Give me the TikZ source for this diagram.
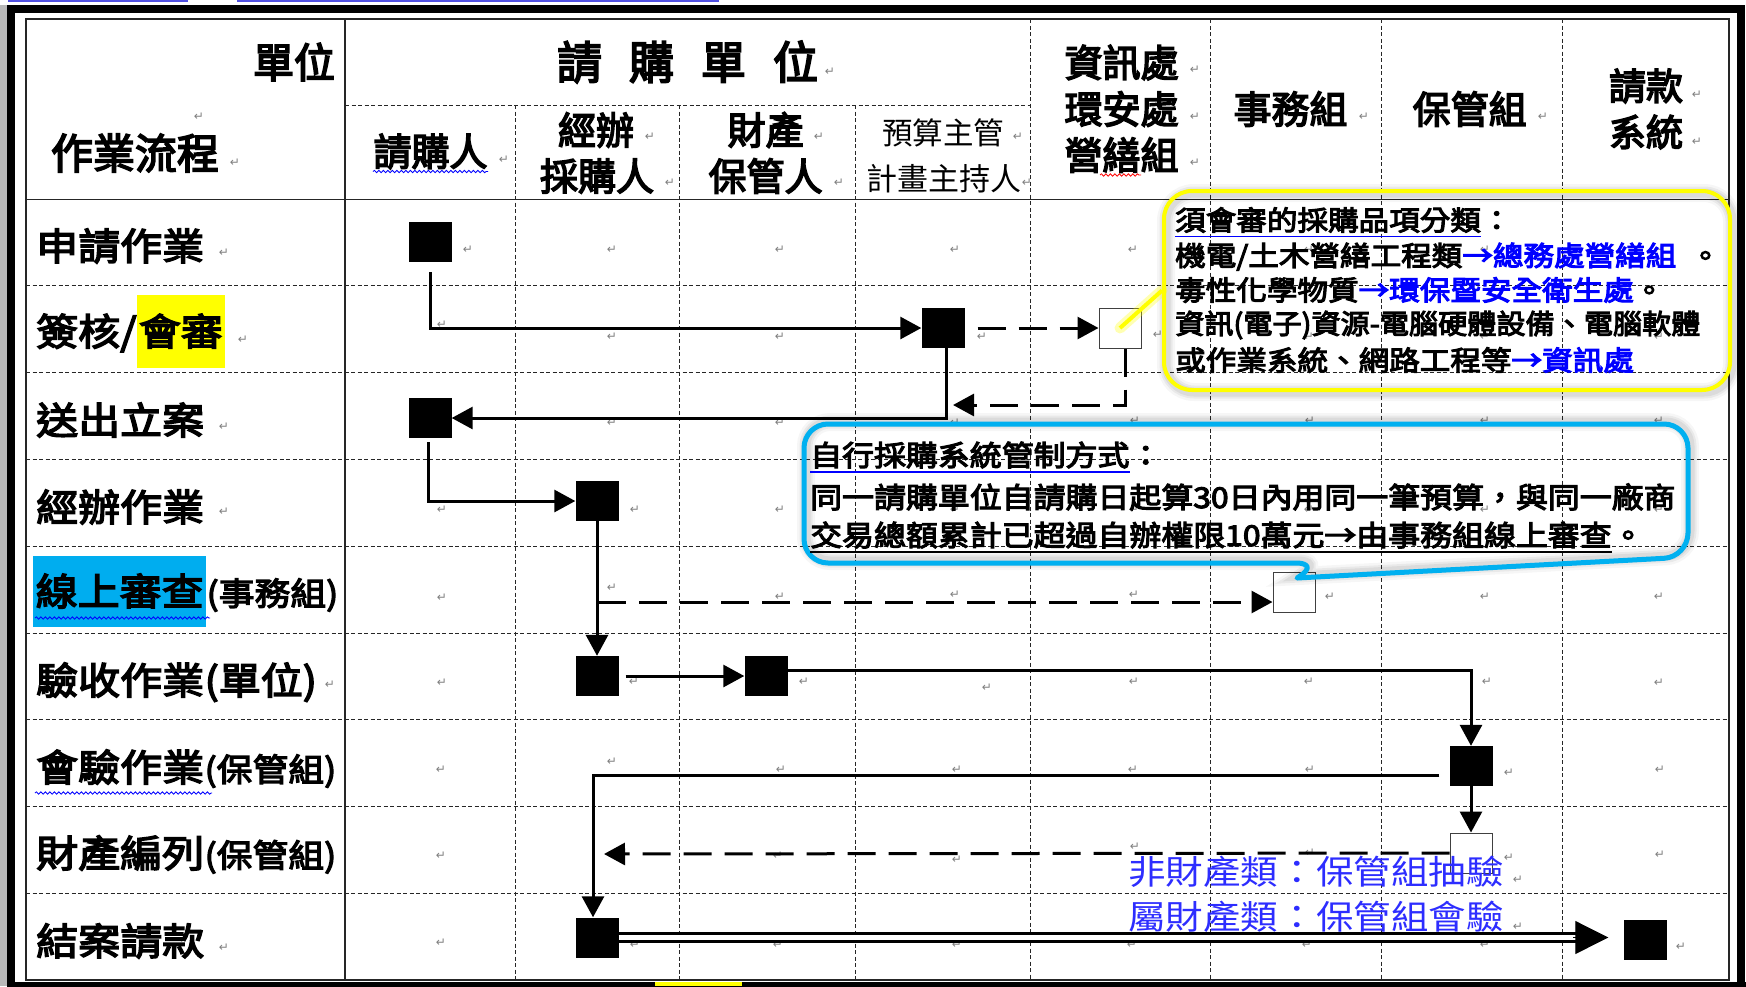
\documentclass[tikz,border=0pt]{standalone}
\usepackage{fontspec}
\usepackage{graphicx}
\setmainfont{Noto Sans CJK TC}[BoldFont=Noto Sans CJK TC, BoldFeatures={FakeBold=4}]
\newfontfamily\widef{Noto Sans CJK TC}[FakeStretch=1.12, BoldFont=Noto Sans CJK TC, BoldFeatures={FakeBold=4}]
\newfontfamily\symf{DejaVu Sans}
\usetikzlibrary{arrows.meta,decorations.pathmorphing}
\newcommand\myfs[1]{\fontsize{#1pt}{#1pt}\selectfont}
\definecolor{cbox}{RGB}{0,176,240}
\definecolor{tblue}{RGB}{0,0,255}
\definecolor{lblue}{RGB}{45,45,255}
\definecolor{topblue}{RGB}{80,80,225}
\definecolor{ylw}{RGB}{255,255,0}
\tikzset{
  gridl/.style={line width=0.9pt, dash pattern=on 4pt off 2.5pt, black!85},
  solidl/.style={line width=1.3pt, black!85},
  bsq/.style={fill=black, minimum width=43pt, minimum height=40pt, inner sep=0pt},
  osq/.style={fill=white, draw=black!75, line width=1pt, minimum width=42pt, minimum height=40pt, inner sep=0pt},
  arr/.style={line width=3pt, -{Triangle[length=21pt,width=22pt]}},
  darr/.style={arr, dash pattern=on 28pt off 13pt},
  lbl/.style={anchor=west, inner sep=0pt, font=\widef\bfseries\myfs{37.5}},
  lbls/.style={anchor=base west, inner sep=0pt, font=\widef\bfseries\myfs{32}},
  hd/.style={inner sep=0pt, font=\bfseries},
  rmark/.style={inner sep=0pt, text=black!50, font=\symf\myfs{12}},
  wavy/.style={decorate, decoration={snake, amplitude=1.2pt, segment length=4.5pt}, line width=0.8pt},
  ctext/.style={anchor=west, inner sep=0pt, font=\widef\bfseries\myfs{27.3}},
  btext/.style={anchor=west, inner sep=0pt, font=\widef\bfseries\myfs{28.5}},
}
\begin{document}
\begin{tikzpicture}[x=1pt,y=-1pt]
\useasboundingbox (0,0) rectangle (1746,986);
\fill[white] (0,0) rectangle (1746,986);
% page artefacts
\fill[gray!55] (0,5) rectangle (7,986);
\draw[line width=2.5pt, topblue] (8,1) -- (188,1);
\draw[line width=2.5pt, topblue] (237,1) -- (719,1);
% grid
\foreach \y in {285.8,372.6,459.4,546.2,633,719.8,806.6,893.4} \draw[gridl] (26,\y) -- (1729,\y);
\draw[gridl] (345,105) -- (1030,105);
\foreach \x in {515,679.5,855} \draw[gridl] (\x,105) -- (\x,980);
\foreach \x in {1030,1210,1381,1562} \draw[gridl] (\x,19) -- (\x,980);
\draw[solidl] (26,19) rectangle (1729,980);
\draw[solidl] (345,19) -- (345,980);
\draw[solidl] (26,199.3) -- (1729,199.3);
% outer frame
\draw[line width=8pt] (11,8.5) -- (1741,8.5);
\draw[line width=8pt] (11,5) -- (11,986);
\draw[line width=8pt] (1741,5) -- (1741,986);
\draw[line width=6pt] (7,984.5) -- (1746,984.5);
\fill[ylw] (655,982) rectangle (742,986);

% header
\node[hd] (hA) at (294,62) {\myfs{41}單位};
\node[hd] (hB) at (135,153) {\myfs{42}作業流程};
\node[hd] (hC) at (687.5,62) {\myfs{45}請\hspace{27pt}購\hspace{27pt}單\hspace{27pt}位};
\node[hd] (hD) at (430.5,151.5) {\myfs{38}請購人};
\node[hd] (hE1) at (596,130) {\myfs{38}經辦};
\node[hd] (hE2) at (597,176) {\myfs{38}採購人};
\node[hd] (hF1) at (765.6,130) {\myfs{38}財產};
\node[hd] (hF2) at (765.6,176) {\myfs{38}保管人};
\node[inner sep=0pt] (hG1) at (943,132.5) {\myfs{30.5}預算主管};
\node[inner sep=0pt] (hG2) at (944,179) {\myfs{31}計畫主持人};
\node[hd] (hH1) at (1121.6,62.5) {\myfs{38}資訊處};
\node[hd] (hH2) at (1121.6,109) {\myfs{38}環安處};
\node[hd] (hH3) at (1121.6,155) {\myfs{38}營繕組};
\node[hd] (hI) at (1290.5,109) {\myfs{38}事務組};
\node[hd] (hJ) at (1469.7,109) {\myfs{38}保管組};
\node[hd] (hK1) at (1646,86) {\myfs{37}請款};
\node[hd] (hK2) at (1646,132) {\myfs{37}系統};
\draw[wavy, tblue] (373,171.5) -- (488,171.5);
\draw[wavy, red] (1100,175) -- (1141,175);

% row labels
\node[lbl] (r1) at (36,246) {申請作業};
\node[lbl] (r2a) at (36,333) {簽核/};
\node[lbl, anchor=base west, fill=ylw, minimum height=73pt, inner xsep=1.8pt] (r2b) at (r2a.base east) {會審};
\node[lbl] (r3) at (36,420) {送出立案};
\node[lbl] (r4) at (36,507) {經辦作業};
\node[lbl, fill=cyan, minimum height=71pt, inner xsep=2.5pt] (r5a) at (33,591) {線上審查};
\node[lbls] (r5b) at (r5a.base east) {(事務組)};
\draw[wavy, tblue] (35,618) -- (210,618);
\node[lbl] (r6a) at (36,680) {驗收作業};
\node[lbls, font=\widef\bfseries\myfs{37.5}] (r6b) at (r6a.base east) {(單位)};
\node[lbl] (r7a) at (36,767) {會驗作業};
\node[lbls] (r7b) at (r7a.base east) {(保管組)};
\draw[wavy, tblue] (35,793) -- (212,793);
\node[lbl] (r8a) at (36,853) {財產編列};
\node[lbls] (r8b) at (r8a.base east) {(保管組)};
\node[lbl] (r9) at (36,941) {結案請款};

% paragraph marks
\foreach \x/\y [count=\i] in {199/117,235/163,504/160,650/137,670/183,819/137,839/183,1018/137,1027/183,830/72,1195/70,1195/117,1195/163,1364/117,1543/117,1697/95,1697/142,
224/253,243/340,224/427,224/512,330/685,224/948,
468/250,612/250,780/250,955/250,1133/250,1309/250,1485/250,1659/250,
442/325,612/337,780/337,982/337,1158/335,1309/337,1485/337,1659/337,
612/423,780/423,955/423,1135/421,1310/421,1485/421,1659/421,
442/510,635/510,780/510,955/510,1134/510,1309/510,1485/510,1659/510,
442/598,612/588,780/597,955/595,1134/595,1330/597,1485/597,1659/597,
442/683,634/682,804/682,987/688,1134/682,1309/682,1487/682,1659/683,
441/770,612/762,781/770,957/770,1133/770,1310/770,1509/773,1660/770,
441/856,778/856,957/860,1135/847,1310/853,1509/858,1660/855,1518/880,
441/943,635/945,778/945,957/945,1132/945,1307/945,1485/945,1518/927,1681/947}
  \node[rmark] (pm\i) at (\x,\y) {↵};

% squares
\node[bsq] (s1) at (430,242) {};
\node[bsq] (s2) at (943,328) {};
\node[osq] (o2) at (1120,328) {};
\node[bsq] (s3) at (430,418) {};
\node[bsq] (s4) at (597,501) {};
\node[osq] (o5) at (1294,592) {};
\node[bsq] (s6a) at (597,676) {};
\node[bsq] (s6b) at (766,676) {};
\node[bsq] (s7) at (1471,766) {};
\node[osq] (o8) at (1471,853) {};
\node[bsq] (s9a) at (597,937.5) {};
\node[bsq] (s9b) at (1645,940) {};

% connectors
\draw[arr, shorten <=10pt] (s1.south) |- (s2.west);
\draw[darr, shorten <=13pt] (s2.east) -- (o2.west);
\coordinate (c3) at (953,405);
\draw[darr] ([xshift=5pt]o2.south) |- (c3);
\draw[arr] ([xshift=3pt]s2.south) |- (s3.east);
\draw[arr, shorten <=4pt] ([xshift=-2pt]s3.south) |- (s4.west);
\draw[arr] (s4.south) -- (s6a.north);
\coordinate (c5) at (598,602);
\draw[darr] (c5) -- (c5 -| o5.west);
\draw[arr, shorten <=7pt] (s6a.east) -- (s6b.west);
\draw[arr] ([yshift=6pt]s6b.east) -| (s7.north);
\draw[arr, shorten <=10pt] ([yshift=-9pt]s7.west) -| ([xshift=-4pt]s9a.north);
\draw[arr] (s7.south) -- (o8.north);
\coordinate (c8) at (604,854);
\draw[darr] (o8.west) -- (c8);
\coordinate (e9) at (s9a.east -| s9b.west);
\draw[line width=3pt, double=white, double distance=4.7pt] (s9a.east) -- ([xshift=-28pt]e9);
\draw[line width=1pt, -{Triangle[length=33pt,width=33pt]}] ([xshift=-50pt]e9) -- ([xshift=-15pt]e9);

% yellow callout
\foreach \w/\o in {18/0.035,13/0.05,9/0.06}
  \draw[line width=\w pt, black, opacity=\o, rounded corners=28pt] (1166,193) rectangle (1732,392);
\node[draw=ylw, line width=4pt, rounded corners=28pt, minimum width=566pt, minimum height=199pt, inner sep=0pt] (ycall) at (1447,290.5) {};
\draw[line width=11pt, ylw, opacity=0.3, line cap=round] (ycall.west) -- (o2.center);
\draw[line width=4pt, ylw] (ycall.west) -- (o2.center);
\node[ctext] (yt1a) at (1175,220) {須會審的採購品項分類};
\node[ctext, anchor=base west] (yt1b) at (yt1a.base east) {：};
\draw[tblue, line width=1.5pt] ([yshift=-6pt]yt1a.base west) -- ([yshift=-6pt]yt1a.base east);
\node[ctext] (yt2) at (1175,256.7) {機電/土木營繕工程類\textcolor{tblue}{→總務處營繕組}\hspace{0.5em}。};
\node[ctext] (yt3) at (1175,290) {毒性化學物質\textcolor{tblue}{→環保暨安全衛生處}。};
\node[ctext] (yt4) at (1175,325) {\scalebox{0.953}[1]{資訊(電子)資源-電腦硬體設備、電腦軟體}};
\node[ctext] (yt5) at (1175,360) {或作業系統、網路工程等\textcolor{tblue}{→資訊處}};

% blue callout
\foreach \w/\o in {18/0.035,13/0.05,9/0.06}
  \draw[line width=\w pt, black, opacity=\o, shift={(2pt,2pt)}] (1297,578) [rounded corners=24pt] -- (1688,557) -- (1688,424) -- (804,424) -- (804,563) -- (1320,563) [sharp corners] -- cycle;
\draw[cbox, line width=5pt, line join=round] (1297,578) [rounded corners=24pt] -- (1688,557) -- (1688,424) -- (804,424) -- (804,563) -- (1320,563) [sharp corners] -- cycle;
\node[btext] (bt1a) at (810,455) {自行採購系統管制方式};
\node[btext, anchor=base west] (bt1b) at (bt1a.base east) {：};
\draw[tblue, line width=1.5pt] ([yshift=-6pt]bt1a.base west) -- ([yshift=-6pt]bt1a.base east);
\node[btext] (bt2) at (810,497) {同一請購單位自請購日起算30日內用同一筆預算，與同一廠商};
\node[btext] (bt3a) at (810,535) {交易總額累計已超過自辦權限10萬元→由事務組線上審查};
\node[btext, anchor=base west] (bt3b) at (bt3a.base east) {。};
\draw[black, line width=1.5pt] ([yshift=-6pt]bt3a.base west) -- ([yshift=-6pt]bt3a.base east);

% bottom-right note
\node[inner sep=0pt, font=\widef\myfs{33.5}, text=lblue] (n1) at (1316,872) {非財產類：保管組抽驗};
\node[inner sep=0pt, font=\widef\myfs{33.5}, text=lblue] (n2) at (1316,917) {屬財產類：保管組會驗};
\end{tikzpicture}
\end{document}
